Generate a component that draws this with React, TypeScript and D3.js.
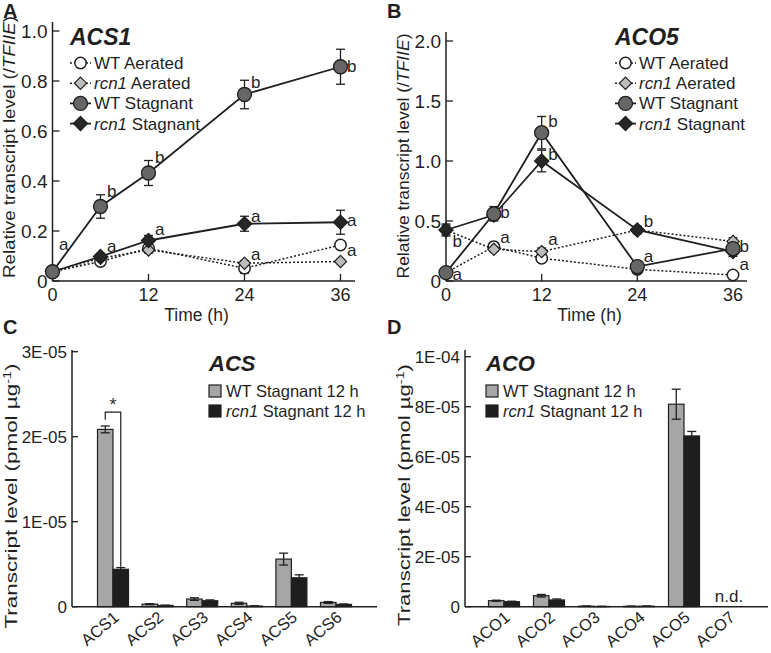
import React from 'react';
import * as d3 from 'd3';

const FONT = '"Liberation Sans", Arial, Helvetica, sans-serif';

// ---- panels A and B: time courses ----
const times = [0, 6, 12, 24, 36];
const timeTicks = [0, 12, 24, 36];

const acs1TickValues = [0, 0.2, 0.4, 0.6, 0.8, 1.0];
const acs1TickLabels = ['0', '0.2', '0.4', '0.6', '0.8', '1.0'];
const acs1WtAerated = [0.037, 0.078, 0.131, 0.051, 0.144];
const acs1WtAeratedErr = [0.005, 0.008, 0.015, 0.02, 0.015];
const acs1RcnAerated = [0.037, 0.091, 0.124, 0.071, 0.078];
const acs1RcnAeratedErr = [0.005, 0.008, 0.012, 0.01, 0.008];
const acs1WtStagnant = [0.037, 0.298, 0.432, 0.746, 0.857];
const acs1WtStagnantErr = [0.005, 0.047, 0.05, 0.057, 0.07];
const acs1RcnStagnant = [0.037, 0.098, 0.162, 0.229, 0.235];
const acs1RcnStagnantErr = [0.005, 0.012, 0.02, 0.03, 0.048];
const acs1Letters = [
  { t: 0, v: 0.124, s: 'a' },
  { t: 6, v: 0.336, s: 'b' }, { t: 6, v: 0.116, s: 'a' },
  { t: 12, v: 0.472, s: 'b' }, { t: 12, v: 0.184, s: 'a' },
  { t: 24, v: 0.772, s: 'b' }, { t: 24, v: 0.236, s: 'a' }, { t: 24, v: 0.084, s: 'a' },
  { t: 36, v: 0.837, s: 'b' }, { t: 36, v: 0.22, s: 'a' }, { t: 36, v: 0.1, s: 'a' },
];

const aco5TickValues = [0, 0.5, 1.0, 1.5, 2.0];
const aco5TickLabels = ['0', '0.5', '1.0', '1.5', '2.0'];
const aco5WtAerated = [0.07, 0.286, 0.19, 0.097, 0.05];
const aco5WtAeratedErr = [0.01, 0.03, 0.03, 0.03, 0.02];
const aco5RcnAerated = [0.425, 0.264, 0.245, 0.425, 0.33];
const aco5RcnAeratedErr = [0.04, 0.02, 0.03, 0.03, 0.03];
const aco5WtStagnant = [0.07, 0.56, 1.236, 0.12, 0.27];
const aco5WtStagnantErr = [0.02, 0.06, 0.135, 0.04, 0.05];
const aco5RcnStagnant = [0.425, 0.55, 1.0, 0.425, 0.245];
const aco5RcnStagnantErr = [0.05, 0.04, 0.09, 0.03, 0.04];
const aco5Letters = [
  { t: 0, v: 0.286, s: 'b' }, { t: 0, v: 0.008, s: 'a' },
  { t: 6, v: 0.525, s: 'b' }, { t: 6, v: 0.317, s: 'a' },
  { t: 12, v: 1.286, s: 'b' }, { t: 12, v: 1.008, s: 'b' }, { t: 12, v: 0.3, s: 'a' },
  { t: 24, v: 0.452, s: 'b' }, { t: 24, v: 0.16, s: 'a' },
  { t: 36, v: 0.244, s: 'b' }, { t: 36, v: 0.092, s: 'a' },
];

// ---- panels C and D: absolute transcript levels at 12 h ----
const acsGenes = ['ACS1', 'ACS2', 'ACS3', 'ACS4', 'ACS5', 'ACS6'];
const acsWt = [2.086e-5, 0.3e-6, 0.9e-6, 0.4e-6, 0.56e-5, 0.5e-6];
const acsWtErr = [0.04e-5, 0.05e-6, 0.15e-6, 0.12e-6, 0.07e-5, 0.1e-6];
const acsRcn = [0.44e-5, 0.15e-6, 0.7e-6, 0.08e-6, 0.34e-5, 0.27e-6];
const acsRcnErr = [0.02e-5, 0.03e-6, 0.1e-6, 0.02e-6, 0.035e-5, 0.05e-6];
const acsTickValues = [0, 1e-5, 2e-5, 3e-5];
const acsTickLabels = ['0', '1E-05', '2E-05', '3E-05'];

const acoGenes = ['ACO1', 'ACO2', 'ACO3', 'ACO4', 'ACO5', 'ACO7'];
const acoWt = [2.4e-6, 4.4e-6, 0.2e-6, 0.15e-6, 8.1e-5, null];
const acoWtErr = [0.2e-6, 0.5e-6, 0.05e-6, 0.05e-6, 0.6e-5, null];
const acoRcn = [2.0e-6, 2.7e-6, 0.1e-6, 0.2e-6, 6.83e-5, null];
const acoRcnErr = [0.2e-6, 0.4e-6, 0.05e-6, 0.05e-6, 0.18e-5, null];
const acoTickValues = [0, 2e-5, 4e-5, 6e-5, 8e-5, 1e-4];
const acoTickLabels = ['0', '2E-05', '4E-05', '6E-05', '8E-05', '1E-04'];

const INK = '#1f1f1f';

function Marker({ kind, cx, cy }) {
  if (kind === 'wtS') return <circle cx={cx} cy={cy} r={7} fill="#666" stroke={INK} strokeWidth={1.3} />;
  if (kind === 'wtA') return <circle cx={cx} cy={cy} r={5.7} fill="#fff" stroke={INK} strokeWidth={1.5} />;
  const size = kind === 'rcnS' ? 130 : 95;
  const d = d3.symbol(d3.symbolDiamond2, size)();
  return (
    <path d={d} transform={`translate(${cx},${cy})`}
      fill={kind === 'rcnS' ? '#262626' : '#bdbdbd'} stroke={INK} strokeWidth={1.2} />
  );
}

function LinePanel(p) {
  const x = d3.scaleLinear().domain([0, 36]).range([p.xLeft, p.xRight]);
  const y = d3.scaleLinear().domain([0, p.yMax]).range([p.yBottom, p.yTop]);
  const line = d3.line().x((d) => x(d[0])).y((d) => y(d[1]));
  const dotted = (k) => k === 'wtA' || k === 'rcnA';
  const legendRows = [
    { k: 'wtA', it: null, rest: 'WT Aerated' },
    { k: 'rcnA', it: 'rcn1', rest: ' Aerated' },
    { k: 'wtS', it: null, rest: 'WT Stagnant' },
    { k: 'rcnS', it: 'rcn1', rest: ' Stagnant' },
  ];
  return (
    <g>
      <text x={p.letterX} y={18} fontSize={20} fontWeight="bold">{p.letter}</text>
      {/* axes */}
      <line x1={p.xLeft} x2={p.xLeft} y1={p.yBottom} y2={p.axisTop} stroke={INK} strokeWidth={1.5} />
      <line x1={p.xLeft} x2={p.axisEnd} y1={p.yBottom} y2={p.yBottom} stroke={INK} strokeWidth={1.5} />
      {p.yTicks.map((v, i) => (
        <g key={i}>
          <line x1={p.xLeft} x2={p.xLeft + 7} y1={y(v)} y2={y(v)} stroke={INK} strokeWidth={1.3} />
          <text x={p.xLeft - 5} y={y(v)} dy="0.36em" textAnchor="end" fontSize={19}>{p.yTickLabels[i]}</text>
        </g>
      ))}
      {timeTicks.map((t) => (
        <g key={t}>
          <line x1={x(t)} x2={x(t)} y1={p.yBottom} y2={p.yBottom - 7} stroke={INK} strokeWidth={1.3} />
          <text x={x(t)} y={301} textAnchor="middle" fontSize={18}>{t}</text>
        </g>
      ))}
      <text x={(p.xLeft + p.xRight) / 2} y={321} textAnchor="middle" fontSize={17.5}>Time (h)</text>
      <text transform={`translate(${p.yLabelX},${p.yLabelY}) rotate(-90)`} textAnchor="middle" fontSize={17}
        textLength={p.yLabelLen} lengthAdjust="spacingAndGlyphs">
        Relative transcript level (/<tspan fontStyle="italic">TFIIE</tspan>)
      </text>
      {/* lines */}
      {p.series.map((s) => (
        <path key={s.k} d={line(times.map((t, i) => [t, s.values[i]]))} fill="none" stroke={INK}
          strokeWidth={dotted(s.k) ? 1.5 : 1.8} strokeDasharray={dotted(s.k) ? '2 2' : null} />
      ))}
      {/* error bars */}
      {p.series.map((s) => times.map((t, i) => {
        const cx = x(t), lo = y(s.values[i] - s.errs[i]), hi = y(s.values[i] + s.errs[i]);
        return (
          <g key={s.k + t} stroke={INK} strokeWidth={1.3}>
            <line x1={cx} x2={cx} y1={lo} y2={hi} />
            <line x1={cx - 4.5} x2={cx + 4.5} y1={lo} y2={lo} />
            <line x1={cx - 4.5} x2={cx + 4.5} y1={hi} y2={hi} />
          </g>
        );
      }))}
      {/* markers */}
      {p.series.map((s) => times.map((t, i) => (
        <Marker key={s.k + t} kind={s.k} cx={x(t)} cy={y(s.values[i])} />
      )))}
      {p.letters.map((l, i) => (
        <text key={i} x={x(l.t) + 6.5} y={y(l.v)} fontSize={17}>{l.s}</text>
      ))}
      {/* legend */}
      <text x={p.legendX} y={45} fontSize={23} fontWeight="bold" fontStyle="italic">{p.title}</text>
      {legendRows.map((r, i) => {
        const ly = 63 + i * 20.2;
        return (
          <g key={r.k}>
            <line x1={p.legendX} x2={p.legendX + 21} y1={ly} y2={ly} stroke={INK}
              strokeWidth={dotted(r.k) ? 1.5 : 1.8} strokeDasharray={dotted(r.k) ? '2 2' : null} />
            <Marker kind={r.k} cx={p.legendX + 10.5} cy={ly} />
            <text x={p.legendX + 24} y={ly + 6} fontSize={17}>
              {r.it ? <tspan fontStyle="italic">{r.it}</tspan> : null}{r.rest}
            </text>
          </g>
        );
      })}
    </g>
  );
}

function BarPanel(p) {
  const xc = d3.scalePoint().domain(p.genes).range([p.firstCenter, p.lastCenter]);
  const y = d3.scaleLinear().domain([0, p.yMax]).range([p.yBottom, p.yTop]);
  const bw = 15.5;
  const errBar = (cx, v, e, key) => {
    if (v == null) return null;
    const lo = y(v - e), hi = y(v + e);
    return (
      <g key={key} stroke={INK} strokeWidth={1.3}>
        <line x1={cx} x2={cx} y1={lo} y2={hi} />
        <line x1={cx - 4.5} x2={cx + 4.5} y1={lo} y2={lo} />
        <line x1={cx - 4.5} x2={cx + 4.5} y1={hi} y2={hi} />
      </g>
    );
  };
  return (
    <g>
      <text x={p.letterX} y={334} fontSize={20} fontWeight="bold">{p.letter}</text>
      {p.genes.map((g, i) => {
        const c = xc(g);
        return (
          <g key={g}>
            {p.wt[i] != null && (
              <rect x={c - bw} y={y(p.wt[i])} width={bw} height={p.yBottom - y(p.wt[i])}
                fill="#a6a6a6" stroke={INK} strokeWidth={1.2} />
            )}
            {p.rcn[i] != null && (
              <rect x={c} y={y(p.rcn[i])} width={bw} height={p.yBottom - y(p.rcn[i])}
                fill="#1e1e1e" stroke={INK} strokeWidth={1.2} />
            )}
            {errBar(c - bw / 2, p.wt[i], p.wtErr[i], 'w')}
            {errBar(c + bw / 2, p.rcn[i], p.rcnErr[i], 'r')}
            {p.wt[i] == null && (
              <text x={c} y={602} textAnchor="middle" fontSize={17}>n.d.</text>
            )}
            <text transform={`translate(${c + 7},${619}) rotate(-40)`} textAnchor="end" fontSize={16.5}>{g}</text>
          </g>
        );
      })}
      <line x1={p.axisX} x2={p.axisX} y1={p.yBottom} y2={p.axisTop} stroke={INK} strokeWidth={1.5} />
      <line x1={p.axisX} x2={p.axisEnd} y1={p.yBottom} y2={p.yBottom} stroke={INK} strokeWidth={1.5} />
      {p.yTicks.map((v, i) => (
        <g key={i}>
          <line x1={p.axisX} x2={p.axisX + 6} y1={y(v)} y2={y(v)} stroke={INK} strokeWidth={1.3} />
          <text x={p.axisX - 5} y={y(v)} dy="0.36em" textAnchor="end" fontSize={17}>{p.yTickLabels[i]}</text>
        </g>
      ))}
      <text transform={`translate(${p.yLabelX},${p.yLabelY}) rotate(-90)`} textAnchor="middle" fontSize={17}
        textLength={p.yLabelLen} lengthAdjust="spacingAndGlyphs">
        Transcript level (pmol µg<tspan dy={-6} fontSize={11}>-1</tspan><tspan dy={6}>)</tspan>
      </text>
      {p.bracket && (() => {
        const c = xc(p.genes[0]);
        const xl = c - bw / 2, xr = c + bw / 2;
        const top = y(p.bracket.top);
        return (
          <g>
            <path d={`M${xl},${y(p.bracket.left)}V${top}H${xr}V${y(p.bracket.right)}`} fill="none" stroke={INK} strokeWidth={1.2} />
            <text x={c} y={top - 1} textAnchor="middle" fontSize={18} fill="#333">*</text>
          </g>
        );
      })()}
      {/* legend */}
      <text x={p.legendX} y={371} fontSize={22} fontWeight="bold" fontStyle="italic">{p.title}</text>
      {[
        { fill: '#a6a6a6', it: null, rest: 'WT Stagnant 12 h' },
        { fill: '#1e1e1e', it: 'rcn1', rest: ' Stagnant 12 h' },
      ].map((r, i) => {
        const ly = 391 + i * 20;
        return (
          <g key={i}>
            <rect x={p.legendX} y={ly - 6} width={12} height={12} fill={r.fill} stroke={INK} strokeWidth={1.2} />
            <text x={p.legendX + 17} y={ly + 6} fontSize={16.5}>
              {r.it ? <tspan fontStyle="italic">{r.it}</tspan> : null}{r.rest}
            </text>
          </g>
        );
      })}
    </g>
  );
}

export default function App() {
  const acs1Series = [
    { k: 'wtA', values: acs1WtAerated, errs: acs1WtAeratedErr },
    { k: 'rcnA', values: acs1RcnAerated, errs: acs1RcnAeratedErr },
    { k: 'rcnS', values: acs1RcnStagnant, errs: acs1RcnStagnantErr },
    { k: 'wtS', values: acs1WtStagnant, errs: acs1WtStagnantErr },
  ];
  const aco5Series = [
    { k: 'wtA', values: aco5WtAerated, errs: aco5WtAeratedErr },
    { k: 'rcnA', values: aco5RcnAerated, errs: aco5RcnAeratedErr },
    { k: 'rcnS', values: aco5RcnStagnant, errs: aco5RcnStagnantErr },
    { k: 'wtS', values: aco5WtStagnant, errs: aco5WtStagnantErr },
  ];
  return (
    <svg width={771} height={653} fontFamily={FONT} fill={INK}
      style={{ position: 'absolute', left: 0, top: 0, background: '#fff', display: 'block' }}>
      <LinePanel letter="A" letterX={3} xLeft={52.5} xRight={340.5} axisEnd={355}
        yBottom={281} yTop={31} yMax={1.0} axisTop={22}
        yTicks={acs1TickValues} yTickLabels={acs1TickLabels}
        yLabelX={15} yLabelY={147} yLabelLen={262}
        series={acs1Series} letters={acs1Letters} title="ACS1" legendX={70} />
      <LinePanel letter="B" letterX={387} xLeft={446} xRight={733} axisEnd={747}
        yBottom={281} yTop={41} yMax={2.0} axisTop={32}
        yTicks={aco5TickValues} yTickLabels={aco5TickLabels}
        yLabelX={409} yLabelY={156} yLabelLen={245}
        series={aco5Series} letters={aco5Letters} title="ACO5" legendX={615} />
      <BarPanel letter="C" letterX={3} genes={acsGenes} wt={acsWt} wtErr={acsWtErr} rcn={acsRcn} rcnErr={acsRcnErr}
        firstCenter={113} lastCenter={336} axisX={72} axisEnd={377} axisTop={350}
        yBottom={606.7} yTop={351.7} yMax={3e-5} yTicks={acsTickValues} yTickLabels={acsTickLabels}
        yLabelX={17} yLabelY={496} yLabelLen={265}
        bracket={{ left: 2.2e-5, top: 2.29e-5, right: 0.47e-5 }}
        title="ACS" legendX={209} />
      <BarPanel letter="D" letterX={387} genes={acoGenes} wt={acoWt} wtErr={acoWtErr} rcn={acoRcn} rcnErr={acoRcnErr}
        firstCenter={504} lastCenter={729} axisX={465} axisEnd={768} axisTop={350}
        yBottom={606.7} yTop={356.7} yMax={1e-4} yTicks={acoTickValues} yTickLabels={acoTickLabels}
        yLabelX={410} yLabelY={495} yLabelLen={262}
        title="ACO" legendX={486} />
    </svg>
  );
}
